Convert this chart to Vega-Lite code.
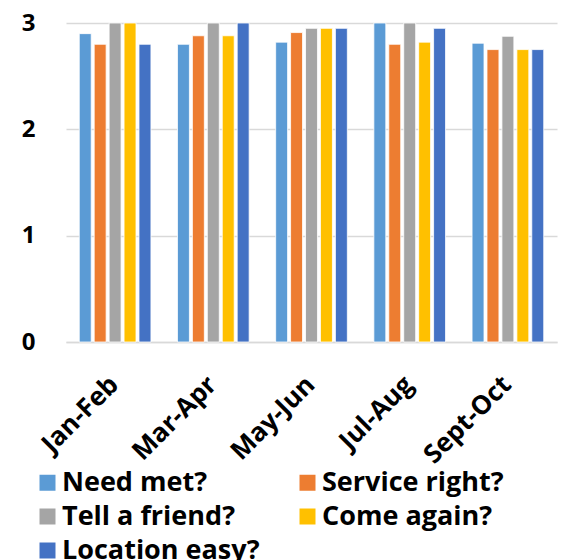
{
  "$schema": "https://vega.github.io/schema/vega-lite/v6.json",
  "width": 491,
  "height": 319,
  "autosize": {"type": "none"},
  "padding": {"left": 66, "top": 23, "right": 20, "bottom": 218},
  "background": "white",
  "config": {
    "view": {"stroke": null},
    "font": "Open Sans"
  },
  "data": {
    "values": [
      {"period": "Jan-Feb", "series": "Need met?", "value": 2.9},
      {"period": "Jan-Feb", "series": "Service right?", "value": 2.8},
      {"period": "Jan-Feb", "series": "Tell a friend?", "value": 3.0},
      {"period": "Jan-Feb", "series": "Come again?", "value": 3.0},
      {"period": "Jan-Feb", "series": "Location easy?", "value": 2.8},
      {"period": "Mar-Apr", "series": "Need met?", "value": 2.8},
      {"period": "Mar-Apr", "series": "Service right?", "value": 2.88},
      {"period": "Mar-Apr", "series": "Tell a friend?", "value": 3.0},
      {"period": "Mar-Apr", "series": "Come again?", "value": 2.88},
      {"period": "Mar-Apr", "series": "Location easy?", "value": 3.0},
      {"period": "May-Jun", "series": "Need met?", "value": 2.82},
      {"period": "May-Jun", "series": "Service right?", "value": 2.91},
      {"period": "May-Jun", "series": "Tell a friend?", "value": 2.95},
      {"period": "May-Jun", "series": "Come again?", "value": 2.95},
      {"period": "May-Jun", "series": "Location easy?", "value": 2.95},
      {"period": "Jul-Aug", "series": "Need met?", "value": 3.0},
      {"period": "Jul-Aug", "series": "Service right?", "value": 2.8},
      {"period": "Jul-Aug", "series": "Tell a friend?", "value": 3.0},
      {"period": "Jul-Aug", "series": "Come again?", "value": 2.82},
      {"period": "Jul-Aug", "series": "Location easy?", "value": 2.95},
      {"period": "Sept-Oct", "series": "Need met?", "value": 2.81},
      {"period": "Sept-Oct", "series": "Service right?", "value": 2.75},
      {"period": "Sept-Oct", "series": "Tell a friend?", "value": 2.875},
      {"period": "Sept-Oct", "series": "Come again?", "value": 2.75},
      {"period": "Sept-Oct", "series": "Location easy?", "value": 2.75}
    ]
  },
  "mark": {"type": "bar", "stroke": "white", "strokeWidth": 0.8},
  "encoding": {
    "x": {
      "field": "period",
      "type": "nominal",
      "sort": null,
      "title": null,
      "scale": {"paddingInner": 0.27, "paddingOuter": 0.135},
      "axis": {
        "labelAngle": -45,
        "labelFontSize": 26,
        "labelFontWeight": "bold",
        "labelColor": "black",
        "labelPadding": 29,
        "labelOffset": -10,
        "domainColor": "#d9d9d9",
        "domainWidth": 1.5,
        "ticks": false
      }
    },
    "xOffset": {
      "field": "series",
      "type": "nominal",
      "sort": ["Need met?", "Service right?", "Tell a friend?", "Come again?", "Location easy?"],
      "scale": {"paddingInner": 0.2}
    },
    "y": {
      "field": "value",
      "type": "quantitative",
      "title": null,
      "scale": {"domain": [0, 3], "nice": false},
      "axis": {
        "values": [0, 1, 2, 3],
        "labelFontSize": 24,
        "labelFontWeight": "bold",
        "labelColor": "black",
        "labelPadding": 31,
        "domain": false,
        "ticks": false,
        "gridColor": "#d9d9d9",
        "gridWidth": 1.5
      }
    },
    "color": {
      "field": "series",
      "type": "nominal",
      "scale": {
        "domain": ["Need met?", "Tell a friend?", "Location easy?", "Service right?", "Come again?"],
        "range": ["#5B9BD5", "#A5A5A5", "#4472C4", "#ED7D31", "#FFC000"]
      },
      "legend": {
        "title": null,
        "orient": "none",
        "legendX": -32,
        "legendY": 446,
        "columns": 2,
        "columnPadding": 34,
        "rowPadding": 6,
        "symbolType": "square",
        "symbolSize": 256,
        "symbolStrokeWidth": 0,
        "symbolOffset": 0,
        "labelOffset": 1,
        "labelFontSize": 27,
        "labelFontWeight": "bold",
        "labelColor": "black",
        "labelLimit": 400
      }
    }
  }
}
